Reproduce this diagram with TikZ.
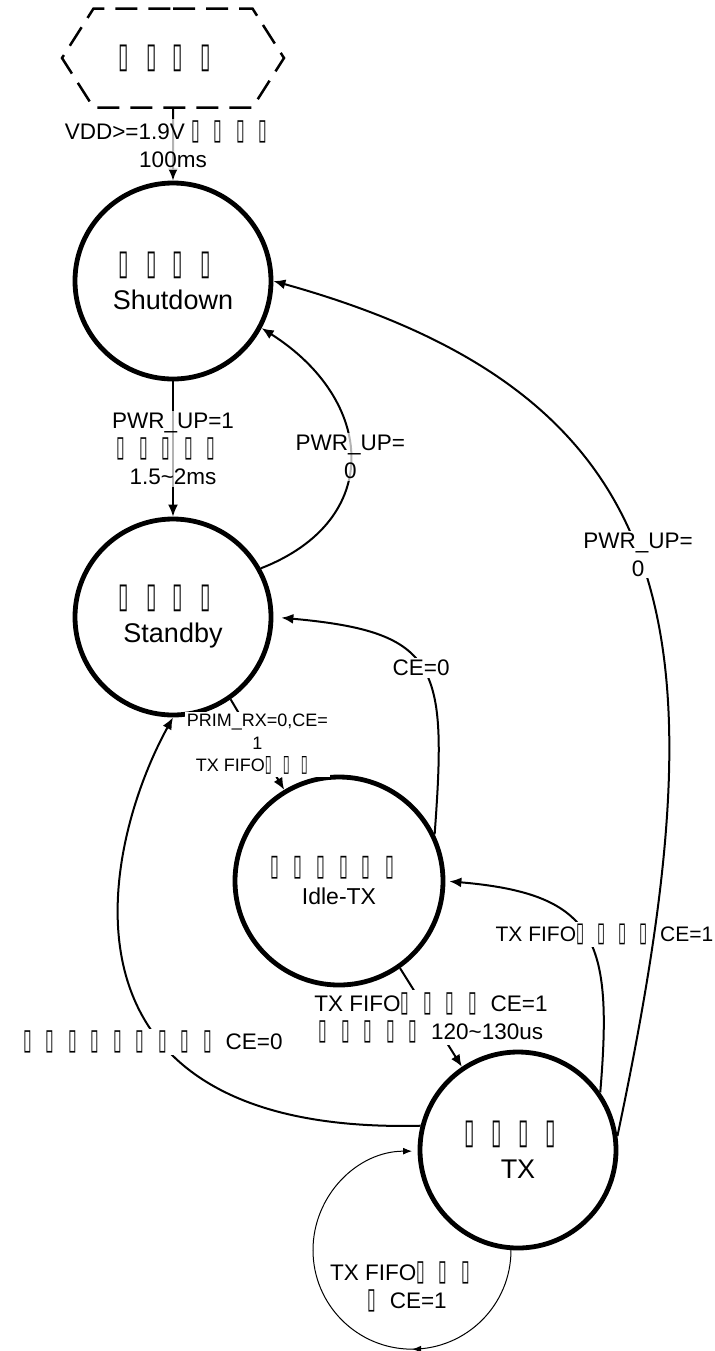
\documentclass[tikz,border=0pt]{standalone}
\usepackage{fontspec}
\setmainfont{Liberation Sans}
\newfontfamily\boxfont{DejaVu Sans}
\usepackage{tikz}
\usetikzlibrary{arrows.meta,calc,positioning,shapes.symbols,decorations.markings}
\newcommand{\tf}{\makebox[1em][l]{\scalebox{0.7}[1.3]{\boxfont ▯}}}
\tikzset{
        fsm/.style = {draw, circle, line width=2.4pt, inner sep=0pt,
            minimum size=98pt, align=center,
            font=\fontsize{13.5}{17.5}\selectfont},
        porbox/.style = {draw, signal, signal to=east and west,
            signal pointer angle=115, line width=1.25pt,
            dash pattern=on 11pt off 5.5pt,
            minimum width=111pt, minimum height=49.5pt,
            font=\fontsize{13.5}{17.5}\selectfont},
        trans/.style = {draw, -{Latex[length=6pt, width=5pt]}, line width=1pt},
        lbl/.style = {fill=white, inner sep=1pt, align=center,
            font=\fontsize{11.25}{14}\selectfont},
        thru/.style = {fill opacity=0.7, text opacity=1},
        tiny/.style = {font=\fontsize{9}{11.25}\selectfont},
        loopline/.style = {draw, -{Latex[length=4.5pt, width=3.5pt]}, line width=0.5pt,
            decoration={markings,
                mark=at position 0.333 with {\arrow{Latex[length=4.5pt, width=3.5pt]}}},
            postaction={decorate}},
    }

\begin{document}
\begin{tikzpicture}[x=0.5pt, y=-0.5pt]
    \useasboundingbox (0,0) rectangle (714,1351);

    \node[porbox] (por) at (173,58) {\tf\tf\tf\tf};
    \node[fsm] (shut) at (173,281) {\tf\tf\tf\tf\\Shutdown};
    \node[fsm] (stby) at (173,617) {\tf\tf\tf\tf\\Standby};
    \node[fsm, minimum size=104pt, font=\fontsize{11.5}{14.5}\selectfont] (idle) at (339,881)
        {\tf\tf\tf\tf\tf\tf\\Idle-TX};
    \node[fsm] (tx) at (518,1150) {\tf\tf\tf\tf\\TX};

    \draw[trans] (por) -- node[lbl, thru] {VDD>=1.9V \tf\tf\tf\tf\\100ms} (shut);
    \draw[trans] (shut) -- node[lbl, thru] {PWR\_UP=1\\\tf\tf\tf\tf\tf\\1.5\textasciitilde2ms} (stby);
    \draw[trans] (stby.29) .. controls (385,520) and (375,400) ..
        node[lbl, thru] {PWR\_UP=\\0} (shut.-28);
    \draw[trans] (stby.-55) -- node[lbl, tiny] {PRIM\_RX=0,CE=\\1\\TX FIFO\tf\tf\tf} (idle.121);
    \draw[trans, shorten >=4pt] (idle.26) .. controls (447,666) and (440,632) ..
        node[lbl] {CE=0} (stby.east);
    \draw[trans, shorten >=2pt] (tx.35) .. controls (613,940) and (597,894) ..
        node[lbl, xshift=10pt, font=\fontsize{10.5}{13}\selectfont] {TX FIFO\tf\tf\tf\tf CE=1} (idle.east);
    \draw[trans] (tx.8) .. controls (720,650) and (700,400) ..
        node[lbl, pos=0.52] {PWR\_UP=\\0} (shut.east);
    \draw[trans] (tx.166) .. controls (40,1135) and (100,850) ..
        node[lbl, pos=0.36, xshift=-4pt] {\tf\tf\tf\tf\tf\tf\tf\tf\tf CE=0} (stby.south);
    \draw[trans] (idle.-55) --
        node[lbl] {TX FIFO\tf\tf\tf\tf CE=1\\\tf\tf\tf\tf\tf 120\textasciitilde130us} (tx.124);

    % self loop
    \draw[loopline] (tx.266) arc[start angle=0, end angle=270, radius=99];
    \node[lbl, fill=none] (looplbl) at (407,1287) {TX FIFO\tf\tf\tf\\\tf CE=1};
\end{tikzpicture}
\end{document}
